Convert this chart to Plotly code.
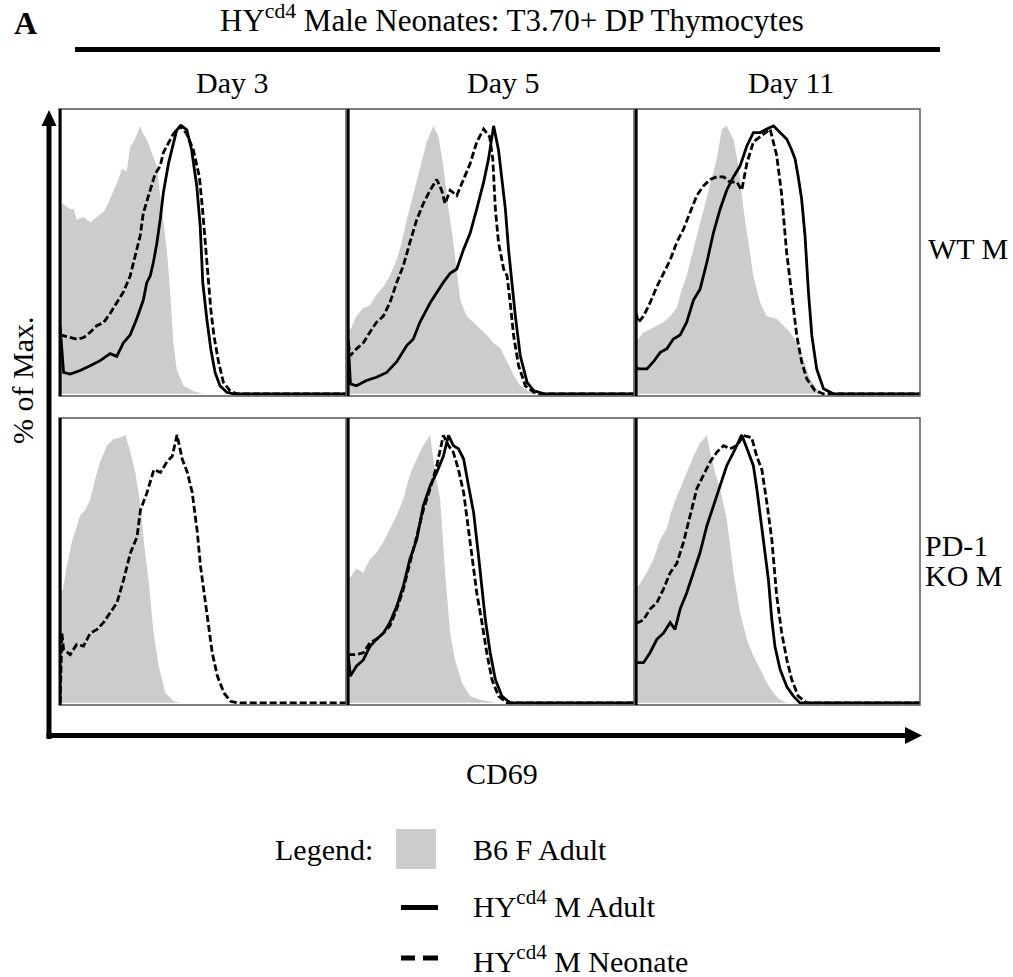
import plotly.graph_objects as go

# ---------------- data (CD69 channel 0-1000, % of Max) ----------------
# Day 3, WT M
D3_WT_B6_X = [0, 7, 35, 47, 58, 82, 105, 128, 152, 163, 175, 186, 204, 216, 233, 245, 262, 280, 291, 303, 321, 338, 350, 361, 373, 385, 396, 408, 431, 466, 501, 1000]
D3_WT_B6_Y = [70, 71, 69, 69, 65, 66, 64, 66, 68, 70, 73, 76, 80, 84, 83, 92, 95, 100, 97, 95, 90, 85, 74, 65, 54, 38, 19, 9, 3, 1, 0, 0]
D3_WT_AD_X = [0, 12, 35, 70, 105, 140, 175, 198, 221, 245, 268, 291, 303, 315, 326, 338, 350, 361, 379, 396, 408, 425, 443, 460, 478, 490, 499, 513, 527, 542, 559, 583, 606, 1000]
D3_WT_AD_Y = [25, 8, 7.4, 8.7, 10.5, 12.4, 15, 14, 19, 22, 28, 35, 41.5, 44, 49, 56, 65, 75, 86, 93.6, 98.5, 100, 98.5, 91, 77.5, 62.6, 41.5, 28, 16.7, 8, 3, 0.6, 0, 0]
D3_WT_NEO_X = [0, 12, 35, 58, 82, 105, 128, 152, 175, 198, 221, 245, 262, 280, 291, 315, 332, 350, 361, 379, 396, 420, 443, 466, 487, 498, 510, 519, 527, 538, 554, 571, 594, 618, 1000]
D3_WT_NEO_Y = [22, 21.7, 21, 20.4, 21, 23, 25.4, 26.6, 30, 34, 38, 44, 51, 59, 67.5, 76, 82, 85, 90, 93.6, 97, 100, 97, 91, 81, 69, 52.7, 41.5, 31.6, 21.7, 12, 4.3, 1.2, 0, 0]

# Day 5, WT M
D5_WT_B6_X = [0, 8, 29, 53, 76, 99, 123, 146, 170, 187, 205, 228, 251, 275, 298, 316, 333, 351, 368, 392, 415, 450, 485, 509, 532, 556, 579, 602, 637, 661, 1000]
D5_WT_B6_Y = [25, 24, 29, 32, 33, 37, 40, 44, 50, 56.5, 65, 74, 84, 94, 100, 96, 85, 69, 56.5, 35, 29, 25.5, 22, 19, 17, 12, 7, 3, 0.6, 0, 0]
D5_WT_AD_X = [0, 8, 29, 64, 99, 135, 170, 205, 228, 251, 287, 310, 333, 357, 380, 404, 427, 450, 474, 491, 509, 526, 538, 550, 561, 573, 585, 602, 626, 649, 684, 1000]
D5_WT_AD_Y = [20, 3.7, 3, 5, 6.2, 8, 12, 18, 20.5, 26.7, 34, 38, 41.6, 45, 46.6, 54, 60, 69, 79, 87.6, 100, 91, 81, 69, 54, 41.6, 29, 14.3, 4.3, 1.2, 0, 0]
D5_WT_NEO_X = [0, 8, 29, 53, 76, 99, 123, 146, 170, 193, 216, 240, 263, 287, 310, 327, 339, 357, 380, 404, 427, 450, 474, 495, 506, 515, 526, 544, 556, 567, 579, 596, 620, 649, 673, 1000]
D5_WT_NEO_Y = [19, 14.3, 16.8, 19, 23, 26.7, 29, 34, 41.6, 47.8, 56.5, 65, 71, 76, 80, 76, 71, 76, 74, 80, 86, 94, 98.8, 96, 87.6, 69, 56.5, 46.6, 44, 34, 21.7, 10.6, 3, 0.6, 0, 0]

# Day 11, WT M
D11_WT_B6_X = [0, 8, 26, 49, 73, 96, 120, 143, 161, 178, 196, 214, 237, 261, 284, 302, 319, 343, 360, 378, 396, 413, 437, 460, 495, 519, 542, 566, 589, 613, 636, 660, 1000]
D11_WT_B6_Y = [20, 20.5, 23, 24, 25.5, 26.7, 29, 32, 39, 44, 51.6, 59, 69, 79, 87.6, 98.8, 100, 95, 85, 69, 56.5, 44, 34, 29, 28, 25.5, 23, 19, 13, 5.6, 1.9, 0, 0]
D11_WT_AD_X = [0, 8, 38, 61, 85, 108, 131, 155, 178, 202, 225, 249, 272, 296, 319, 343, 366, 390, 413, 437, 460, 484, 507, 531, 548, 560, 571, 583, 595, 607, 619, 636, 660, 695, 1000]
D11_WT_AD_Y = [10, 9.3, 9.3, 12, 15.5, 16.8, 20.5, 22, 26.7, 35, 39, 49, 60, 69, 76, 81, 85, 92.5, 97.5, 97.5, 98.8, 100, 97.5, 95, 91, 87.6, 81, 72.7, 59, 38, 21.7, 9.3, 1.9, 0, 0]
D11_WT_NEO_X = [0, 8, 26, 49, 73, 96, 120, 143, 167, 190, 214, 237, 261, 284, 308, 331, 355, 372, 390, 413, 437, 472, 495, 512, 530, 548, 566, 583, 601, 630, 660, 1000]
D11_WT_NEO_Y = [30, 26.7, 29, 34, 40, 45, 50, 56.5, 61.5, 67.7, 74, 77.6, 80, 81, 81, 79, 79, 76, 86, 94, 96, 98.8, 89, 75, 53, 38, 21.7, 12, 5.6, 1.2, 0, 0]

# Day 3, PD-1 KO M (no adult HY curve)
D3_KO_B6_X = [0, 9, 23, 41, 53, 70, 88, 105, 123, 140, 164, 187, 211, 228, 246, 263, 281, 292, 310, 327, 345, 368, 398, 421, 1000]
D3_KO_B6_Y = [42, 42, 51, 60, 64, 70, 72, 76, 83.5, 90, 96, 98.5, 99, 100, 93.5, 86, 73.6, 61, 45, 26, 13.7, 3.7, 0.6, 0, 0]
D3_KO_NEO_X = [0, 6, 12, 35, 58, 82, 105, 129, 152, 175, 199, 222, 246, 269, 281, 304, 328, 351, 374, 392, 409, 427, 445, 462, 480, 491, 503, 515, 532, 550, 573, 596, 620, 1000]
D3_KO_NEO_Y = [0, 26, 20, 18, 21.8, 21.2, 26, 27.4, 30, 33.7, 37.4, 46, 56, 62, 72, 78.5, 87, 86, 90, 92, 100, 91, 86, 78.5, 63.6, 51, 41, 31, 18.7, 10, 3.7, 0.6, 0, 0]

# Day 5, PD-1 KO M
D5_KO_B6_X = [0, 8, 29, 53, 76, 99, 123, 146, 170, 193, 216, 240, 263, 287, 304, 322, 339, 357, 374, 398, 427, 462, 497, 520, 1000]
D5_KO_B6_Y = [47, 47, 50, 48.6, 53.6, 56, 60, 65, 70, 76, 85, 91, 96, 100, 86, 76, 48.6, 26, 16, 7.5, 2.5, 1.2, 0.6, 0, 0]
D5_KO_AD_X = [0, 8, 29, 53, 76, 99, 123, 146, 170, 193, 216, 240, 263, 287, 310, 333, 351, 368, 386, 404, 421, 439, 456, 468, 480, 497, 515, 538, 567, 1000]
D5_KO_AD_Y = [18, 10, 13.7, 16, 21, 23.7, 26, 30, 36, 43.6, 53.6, 61, 73.6, 81, 86, 92, 99.8, 96, 94.8, 91, 81, 71, 55, 42.4, 31, 18.7, 8.7, 2.5, 0, 0]
D5_KO_NEO_X = [0, 8, 29, 53, 76, 99, 123, 146, 170, 193, 216, 240, 263, 287, 310, 333, 351, 368, 386, 404, 421, 433, 450, 468, 485, 503, 526, 556, 1000]
D5_KO_NEO_Y = [18, 18, 18, 18.7, 22.4, 23.7, 26, 28.7, 35, 42.4, 52, 62, 72, 80, 88.5, 99.8, 96, 93.5, 87, 78.5, 65, 56, 41, 30, 18.7, 8.7, 2.5, 0, 0]

# Day 11, PD-1 KO M
D11_KO_B6_X = [0, 8, 38, 61, 85, 108, 120, 131, 155, 178, 202, 225, 249, 261, 278, 296, 319, 343, 366, 390, 413, 437, 460, 484, 507, 531, 1000]
D11_KO_B6_Y = [43, 43.6, 48.6, 53.6, 61, 65, 70, 73.6, 80, 86, 92, 97, 99.8, 93.5, 86, 80, 68.6, 48.6, 33.7, 23.7, 17.5, 12.5, 7.5, 3.7, 1.2, 0, 0]
D11_KO_AD_X = [0, 8, 26, 49, 73, 96, 120, 137, 155, 178, 202, 225, 249, 272, 296, 319, 343, 366, 372, 390, 413, 425, 437, 449, 466, 478, 489, 507, 531, 554, 577, 1000]
D11_KO_AD_Y = [15, 15, 15, 18.7, 23.7, 26, 30, 27.4, 35, 41, 48.6, 56, 66, 73.6, 81, 88.5, 93.5, 98.5, 100, 95, 88.5, 80, 70, 58.6, 46, 31, 21, 12.5, 6, 2.5, 0, 0]
D11_KO_NEO_X = [0, 8, 26, 49, 73, 96, 120, 143, 167, 190, 214, 237, 261, 284, 308, 331, 355, 378, 407, 425, 443, 460, 478, 495, 513, 531, 548, 571, 601, 1000]
D11_KO_NEO_Y = [30, 30, 31, 35, 37.4, 42.4, 48.6, 52, 60, 70, 80, 85, 90, 93.5, 96, 94.8, 96, 99.8, 99, 92, 87, 75, 61, 40, 26, 16, 8.7, 2.5, 0, 0]

DAYS = ["Day 3", "Day 5", "Day 11"]
STRAINS = ["WT M", ["PD-1", "KO M"]]
SERIES_NAMES = ["B6 F Adult", "HY<sup>cd4</sup> M Adult", "HY<sup>cd4</sup> M Neonate"]

PANELS = [
    (D3_WT_B6_X, D3_WT_B6_Y, D3_WT_AD_X, D3_WT_AD_Y, D3_WT_NEO_X, D3_WT_NEO_Y),
    (D5_WT_B6_X, D5_WT_B6_Y, D5_WT_AD_X, D5_WT_AD_Y, D5_WT_NEO_X, D5_WT_NEO_Y),
    (D11_WT_B6_X, D11_WT_B6_Y, D11_WT_AD_X, D11_WT_AD_Y, D11_WT_NEO_X, D11_WT_NEO_Y),
    (D3_KO_B6_X, D3_KO_B6_Y, None, None, D3_KO_NEO_X, D3_KO_NEO_Y),
    (D5_KO_B6_X, D5_KO_B6_Y, D5_KO_AD_X, D5_KO_AD_Y, D5_KO_NEO_X, D5_KO_NEO_Y),
    (D11_KO_B6_X, D11_KO_B6_Y, D11_KO_AD_X, D11_KO_AD_Y, D11_KO_NEO_X, D11_KO_NEO_Y),
]

# ---------------- layout helpers ----------------
W, H = 1013, 977
FONT = "Liberation Serif"
GRAY = "#cccccc"


def px(x):
    return x / W


def py(y):
    return 1 - y / H


COLS = [(59, 346), (347, 634), (635, 920)]
ROWS = [(109, 396), (418, 705)]

fig = go.Figure()
layout = dict(
    width=W, height=H,
    margin=dict(l=0, r=0, t=0, b=0),
    paper_bgcolor="white", plot_bgcolor="white",
    showlegend=False,
    font=dict(family=FONT, size=30, color="black"),
)
shapes = []
annotations = []

for i, (bx, by, ax_, ay_, nx, ny) in enumerate(PANELS):
    k = i + 1
    r, c = divmod(i, 3)
    xa = "x" if k == 1 else f"x{k}"
    ya = "y" if k == 1 else f"y{k}"
    fig.add_trace(go.Scatter(x=bx, y=by, mode="lines", fill="tozeroy", fillcolor=GRAY,
                             line=dict(width=0, color=GRAY), xaxis=xa, yaxis=ya,
                             name=SERIES_NAMES[0], hoverinfo="skip"))
    if ax_ is not None:
        fig.add_trace(go.Scatter(x=ax_, y=ay_, mode="lines", line=dict(color="black", width=2.8),
                                 xaxis=xa, yaxis=ya, name=SERIES_NAMES[1]))
    fig.add_trace(go.Scatter(x=nx, y=ny, mode="lines",
                             line=dict(color="black", width=2.8, dash="7px,3px"),
                             xaxis=xa, yaxis=ya, name=SERIES_NAMES[2]))
    axis_common = dict(showgrid=False, zeroline=False, showticklabels=False, ticks="",
                       showline=False, fixedrange=True)
    layout["xaxis" if k == 1 else f"xaxis{k}"] = dict(
        domain=[px(COLS[c][0]), px(COLS[c][1])], range=[-4, 1000], anchor=ya, **axis_common)
    layout["yaxis" if k == 1 else f"yaxis{k}"] = dict(
        domain=[py(ROWS[r][1]), py(ROWS[r][0])], range=[-0.8, 106.3], anchor=xa, **axis_common)
    # panel frame
    shapes.append(dict(type="rect", xref=f"{xa} domain", yref=f"{ya} domain",
                       x0=0, x1=1, y0=0, y1=1, line=dict(color="#555555", width=1.5),
                       layer="above"))
    shapes.append(dict(type="line", xref=xa, yref=f"{ya} domain", x0=0, x1=0, y0=0, y1=1,
                       line=dict(color="black", width=3), layer="above"))

# title bar
shapes.append(dict(type="line", xref="paper", yref="paper", x0=px(75), x1=px(940),
                   y0=py(49.5), y1=py(49.5), line=dict(color="black", width=5)))
# y arrow
shapes.append(dict(type="line", xref="paper", yref="paper", x0=px(49), x1=px(49),
                   y0=py(739), y1=py(122), line=dict(color="black", width=5)))
shapes.append(dict(type="path", xref="paper", yref="paper",
                   path=f"M {px(49)},{py(110)} L {px(41.5)},{py(126)} L {px(56.5)},{py(126)} Z",
                   fillcolor="black", line=dict(width=0)))
# x arrow
shapes.append(dict(type="line", xref="paper", yref="paper", x0=px(46.5), x1=px(908),
                   y0=py(735.5), y1=py(735.5), line=dict(color="black", width=5)))
shapes.append(dict(type="path", xref="paper", yref="paper",
                   path=f"M {px(922)},{py(735.5)} L {px(905)},{py(727)} L {px(905)},{py(744)} Z",
                   fillcolor="black", line=dict(width=0)))

# legend symbols
shapes.append(dict(type="rect", xref="paper", yref="paper", x0=px(396), x1=px(436),
                   y0=py(869), y1=py(829), fillcolor=GRAY, line=dict(width=0)))
shapes.append(dict(type="line", xref="paper", yref="paper", x0=px(401), x1=px(438),
                   y0=py(907.5), y1=py(907.5), line=dict(color="black", width=5)))
shapes.append(dict(type="line", xref="paper", yref="paper", x0=px(401), x1=px(415),
                   y0=py(958), y1=py(958), line=dict(color="black", width=5)))
shapes.append(dict(type="line", xref="paper", yref="paper", x0=px(423), x1=px(438),
                   y0=py(958), y1=py(958), line=dict(color="black", width=5)))


def text(t, x, baseline, xanchor="center", size=30, angle=0, yc=None, off=10):
    annotations.append(dict(text=t, xref="paper", yref="paper", x=px(x),
                            y=py(yc if yc is not None else baseline - off),
                            xanchor=xanchor, yanchor="middle", showarrow=False,
                            textangle=angle, font=dict(family=FONT, size=size, color="black")))


text("<b>A</b>", 25, 33, size=32)
text("HY<sup>cd4</sup> Male Neonates: T3.70+ DP Thymocytes", 512, 32, size=31, off=13)
for lab, cx in zip(DAYS, [232, 503, 791]):
    text(lab, cx, 92)
text(STRAINS[0], 926, 258, xanchor="left")
text(STRAINS[1][0], 923, 555, xanchor="left")
text(STRAINS[1][1], 923, 585, xanchor="left")
text("% of Max.", 22, None, angle=-90, yc=381)
text("CD69", 502, 783)
text("Legend:", 375, 859, xanchor="right")
text(SERIES_NAMES[0], 471, 859, xanchor="left")
text(SERIES_NAMES[1], 471, 917, xanchor="left", off=13)
text(SERIES_NAMES[2], 471, 972, xanchor="left", off=13)

layout["shapes"] = shapes
layout["annotations"] = annotations
fig.update_layout(**layout)
fig.write_html("out.html", config={"displayModeBar": False},
               post_script="document.body.style.margin='0px';document.body.style.padding='0px';")
